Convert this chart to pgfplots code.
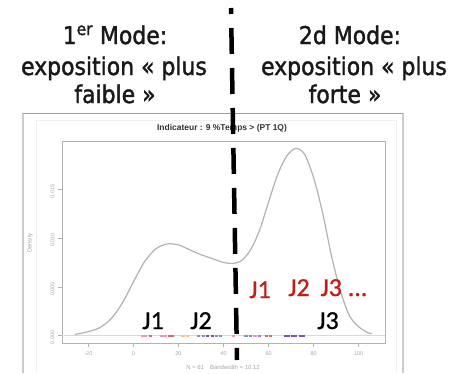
\documentclass[border=0pt]{standalone}
\usepackage{fontspec}
\setmainfont{Liberation Sans}
\newfontfamily\topfont[FakeBold=1.5]{DejaVu Sans Condensed}
\newfontfamily\jfont[FakeBold=0.8]{Carlito}
\usepackage{pgfplots}
\pgfplotsset{compat=1.18}
\definecolor{jred}{RGB}{192,30,22}
\definecolor{curvegray}{RGB}{178,178,178}
\definecolor{rugpink}{RGB}{240,150,178}
\definecolor{rugred}{RGB}{228,100,100}
\definecolor{rugblue}{RGB}{135,135,240}
\definecolor{rugpurple}{RGB}{125,80,185}
\definecolor{rugorange}{RGB}{242,195,140}
\begin{document}
\begin{tikzpicture}[x=1bp,y=1bp]
\useasboundingbox (0,0) rectangle (452,373);
\fill[white] (0,0) rectangle (452,373);
% screenshot frame
\draw[gray!40, line width=1.2bp] (23,0) -- (23,260);
\draw[gray!40, line width=1.2bp] (403,0) -- (403,260);
\draw[gray!75, line width=1bp] (23,260) -- (403,260);
\draw[gray!12, line width=0.8bp] (36,0) -- (36,253) -- (396,253) -- (396,0);
\begin{axis}[
  at={(62bp,30bp)}, anchor=south west,
  scale only axis, width=323bp, height=202bp,
  xmin=-31.7, xmax=111.7, ymin=-0.00077, ymax=0.01997,
  axis line style={gray!60, line width=0.9bp},
  tick style={gray!60, line width=0.6bp},
  tick align=outside, major tick length=4bp,
  xtick={-20,0,20,40,60,80,100},
  ytick={0,0.005,0.01,0.015},
  xtick pos=left, ytick pos=left,
  scaled y ticks=false,
  /pgf/number format/assume math mode=true,
  ticklabel style={font=\fontsize{5.5}{6}\selectfont, text=gray!70},
  xticklabel style={yshift=-1bp},
  yticklabel style={rotate=90, anchor=south, /pgf/number format/fixed,
    /pgf/number format/precision=3, /pgf/number format/fixed zerofill, xshift=-2bp},
  clip=false,
  unbounded coords=jump,
]
\addplot[gray!30, line width=0.4bp] coordinates {(-31.7,0) (111.7,0)};
\addplot[curvegray, line width=1.2bp, smooth] coordinates {
(-26,0.0001) (-20,0.0004) (-15,0.0008) (-10,0.0017) (-5,0.0033) (0,0.0055)
(5,0.0076) (10,0.0089) (15,0.0094) (20,0.0093) (25,0.0088) (30,0.0083)
(35,0.0079) (40,0.0075) (44,0.0074) (48,0.0077) (52,0.0088) (56,0.0108)
(60,0.0137) (64,0.0165) (68,0.0184) (72,0.0192) (76,0.0186) (80,0.0162)
(84,0.0126) (88,0.0081) (92,0.0045) (96,0.0020) (100,0.0009) (104,0.0003) (106,0.0002)};
% rug (short segments around each observation)
\addplot[draw=rugpink, line width=2bp] coordinates {
(3.3,0) (4.7,0) (nan,nan) (4.8,0) (6.2,0) (nan,nan) (11.8,0) (13.2,0) (nan,nan)
(13.3,0) (14.7,0) (nan,nan) (43.8,0) (45.2,0) (nan,nan) (53.3,0) (54.7,0)};
\addplot[draw=rugred, line width=2bp] coordinates {
(6.8,0) (8.2,0) (nan,nan) (15.3,0) (16.7,0) (nan,nan) (16.8,0) (18.2,0) (nan,nan)
(58.3,0) (59.7,0) (nan,nan) (60.3,0) (61.7,0)};
\addplot[draw=rugorange, line width=2bp] coordinates {
(21.3,0) (22.7,0) (nan,nan) (23.3,0) (24.7,0)};
\addplot[draw=rugblue, line width=2bp] coordinates {
(28.3,0) (29.7,0) (nan,nan) (30.3,0) (31.7,0) (nan,nan) (36.3,0) (37.7,0) (nan,nan)
(37.8,0) (39.2,0) (nan,nan) (49.3,0) (50.7,0) (nan,nan) (51.3,0) (52.7,0) (nan,nan) (55.3,0) (56.7,0)};
\addplot[draw=rugpurple, line width=2bp] coordinates {
(32.3,0) (33.7,0) (nan,nan) (34.3,0) (35.7,0) (nan,nan) (66.8,0) (68.2,0) (nan,nan)
(68.3,0) (69.7,0) (nan,nan) (69.8,0) (71.2,0) (nan,nan) (71.3,0) (72.7,0) (nan,nan)
(73.3,0) (74.7,0) (nan,nan) (74.8,0) (76.2,0)};
\end{axis}
% R texts
\node[font=\bfseries\fontsize{8.5}{9}\selectfont, text=black!80] at (222,245) {Indicateur : 9 \%Temps > (PT 1Q)};
\node[font=\fontsize{6}{7}\selectfont, text=gray!70, rotate=90] at (30,130) {Density};
\node[font=\fontsize{6}{7}\selectfont, text=gray!70] at (223,6) {N = 61\quad Bandwidth = 10.12};
% top texts
\begin{scope}[every node/.style={font=\topfont\fontsize{24.5}{26}\selectfont, text=black!90, anchor=base}]
\node at (115,329) {1\textsuperscript{er} Mode:};
\node at (114,298) {exposition « plus};
\node at (115,270) {faible »};
\node at (350,329) {2d Mode:};
\node at (354,298) {exposition « plus};
\node at (345,270) {forte »};
\end{scope}
% dashed separator
\draw[black, line width=4.5bp, dash pattern=on 26bp off 14bp, dash phase=20bp] (231,365) -- (237,13);
% J labels
\begin{scope}[every node/.style={font=\jfont\fontsize{26}{28}\selectfont, anchor=base}]
\node at (153,44) {J1};
\node at (201,44) {J2};
\node at (328,44) {J3};
\node[text=jred] at (260,75) {J1};
\node[text=jred] at (299,77) {J2};
\node[text=jred, anchor=base west] at (317,77) {J3 ...};
\end{scope}
\end{tikzpicture}
\end{document}
